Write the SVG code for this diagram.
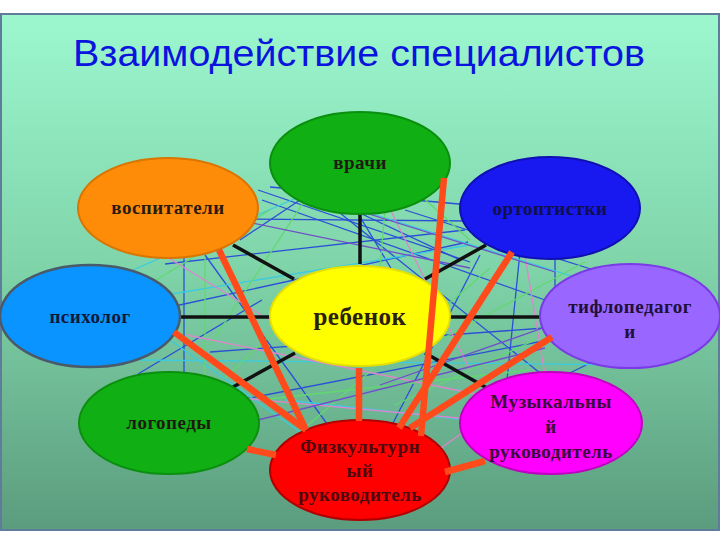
<svg xmlns="http://www.w3.org/2000/svg" width="720" height="540" viewBox="0 0 720 540">
<defs>
<linearGradient id="bg" x1="0" y1="0" x2="0" y2="1">
<stop offset="0" stop-color="#9cf7cf"/>
<stop offset="0.5" stop-color="#7fd3a8"/>
<stop offset="1" stop-color="#5b9c7e"/>
</linearGradient>
<style>
.lbl{font-family:"Liberation Serif","DejaVu Serif",serif;font-weight:bold;font-size:19px;text-anchor:middle;letter-spacing:0.5px}
.b{stroke:#2b4fd6;stroke-width:1.3;fill:none}
.c{stroke:#3ccbe0;stroke-width:1.3;fill:none}
.g{stroke:#62d870;stroke-width:1.3;fill:none}
.p{stroke:#dc86cc;stroke-width:1.3;fill:none}
.v{stroke:#7050c8;stroke-width:1.3;fill:none}
.k{stroke:#111;stroke-width:3.5;fill:none}
.r{stroke:#ff4a1c;stroke-width:6.5;fill:none}
</style>
</defs>
<rect x="0" y="0" width="720" height="540" fill="#ffffff"/>
<rect x="1" y="14" width="718" height="516" fill="url(#bg)" stroke="#5f7d9a" stroke-width="2"/>
<text x="359" y="66" font-family="Liberation Sans, Arial, sans-serif" font-size="36" fill="#0a14dc" text-anchor="middle" textLength="572" lengthAdjust="spacingAndGlyphs">Взаимодействие специалистов</text>

<g id="web">
<line class="b" x1="258" y1="190" x2="470" y2="262"/>
<line class="b" x1="250" y1="219" x2="470" y2="221"/>
<line class="b" x1="262" y1="200" x2="545" y2="300"/>
<line class="b" x1="165" y1="264" x2="465" y2="230"/>
<line class="b" x1="175" y1="306" x2="468" y2="242"/>
<line class="b" x1="184" y1="257" x2="184" y2="374"/>
<line class="b" x1="205" y1="255" x2="330" y2="428"/>
<line class="b" x1="138" y1="374" x2="262" y2="300"/>
<line class="b" x1="300" y1="185" x2="460" y2="260"/>
<line class="b" x1="270" y1="187" x2="470" y2="205"/>
<line class="b" x1="405" y1="210" x2="600" y2="272"/>
<line class="b" x1="555" y1="256" x2="555" y2="300"/>
<line class="b" x1="330" y1="205" x2="555" y2="385"/>
<line class="b" x1="480" y1="255" x2="392" y2="425"/>
<line class="b" x1="520" y1="252" x2="505" y2="400"/>
<line class="b" x1="210" y1="352" x2="545" y2="328"/>
<line class="b" x1="240" y1="400" x2="548" y2="340"/>
<line class="b" x1="600" y1="358" x2="560" y2="378"/>
<line class="b" x1="350" y1="200" x2="410" y2="300"/>
<line class="b" x1="240" y1="240" x2="300" y2="200"/>
<line class="c" x1="133" y1="270" x2="303" y2="195"/>
<line class="c" x1="172" y1="294" x2="470" y2="245"/>
<line class="c" x1="140" y1="360" x2="640" y2="365"/>
<line class="c" x1="170" y1="340" x2="300" y2="432"/>
<line class="c" x1="285" y1="400" x2="468" y2="420"/>
<line class="c" x1="360" y1="210" x2="600" y2="285"/>
<line class="g" x1="270" y1="210" x2="140" y2="290"/>
<line class="g" x1="305" y1="200" x2="210" y2="345"/>
<line class="g" x1="205" y1="257" x2="205" y2="375"/>
<line class="g" x1="420" y1="195" x2="470" y2="240"/>
<line class="g" x1="490" y1="268" x2="300" y2="432"/>
<line class="g" x1="585" y1="262" x2="440" y2="340"/>
<line class="g" x1="225" y1="378" x2="310" y2="298"/>
<line class="g" x1="535" y1="340" x2="395" y2="405"/>
<line class="g" x1="385" y1="210" x2="380" y2="268"/>
<line class="g" x1="260" y1="400" x2="530" y2="370"/>
<line class="p" x1="167" y1="257" x2="310" y2="345"/>
<line class="p" x1="187" y1="335" x2="480" y2="395"/>
<line class="p" x1="240" y1="398" x2="480" y2="420"/>
<line class="p" x1="388" y1="205" x2="470" y2="370"/>
<line class="p" x1="524" y1="250" x2="545" y2="375"/>
<line class="p" x1="548" y1="372" x2="410" y2="470"/>
<line class="v" x1="247" y1="222" x2="470" y2="268"/>
<line class="v" x1="292" y1="190" x2="555" y2="272"/>
<line class="v" x1="560" y1="322" x2="380" y2="385"/>
<line class="v" x1="238" y1="425" x2="545" y2="348"/>
</g>

<g id="spokes">
<line class="k" x1="360" y1="215" x2="360" y2="264"/>
<line class="k" x1="233" y1="245" x2="294" y2="279"/>
<line class="k" x1="486" y1="245" x2="425" y2="279"/>
<line class="k" x1="180" y1="317" x2="270" y2="317"/>
<line class="k" x1="450" y1="317" x2="540" y2="317"/>
<line class="k" x1="233" y1="387" x2="295" y2="353"/>
<line class="k" x1="425" y1="353" x2="487" y2="388"/>
</g>

<g id="n-vrachi"><ellipse cx="360" cy="163" rx="90" ry="51" fill="#10b014" stroke="#0a8f0e" stroke-width="2"/><text class="lbl" x="360" y="169" fill="#1e1a10">врачи</text></g>
<g id="n-vospitateli"><ellipse cx="168" cy="208" rx="90" ry="50" fill="#ff8c08" stroke="#d97500" stroke-width="2"/><text class="lbl" x="168" y="214" fill="#2a1a10">воспитатели</text></g>
<g id="n-ortoptistki"><ellipse cx="550" cy="208" rx="90" ry="51" fill="#1818f0" stroke="#1010b0" stroke-width="2"/><text class="lbl" x="550" y="215" fill="#10104a">ортоптистки</text></g>
<g id="n-psiholog"><ellipse cx="90" cy="316" rx="90" ry="51" fill="#0a94ff" stroke="#4a5a6a" stroke-width="2.5"/><text class="lbl" x="90" y="323" fill="#101838">психолог</text></g>
<g id="n-rebenok"><ellipse cx="360" cy="316" rx="90" ry="50" fill="#ffff00" stroke="#e6e000" stroke-width="2"/><text class="lbl" x="360" y="325" fill="#2a2010" style="font-size:25px">ребенок</text></g>
<g id="n-tiflo"><ellipse cx="630" cy="316" rx="90" ry="52" fill="#9966ff" stroke="#7a3ae6" stroke-width="2"/><text class="lbl" x="630" y="313" fill="#20103a">тифлопедагог</text><text class="lbl" x="630" y="338" fill="#20103a">и</text></g>
<g id="n-logopedy"><ellipse cx="169" cy="423" rx="90" ry="51" fill="#10b014" stroke="#0a8f0e" stroke-width="2"/><text class="lbl" x="169" y="429" fill="#1e1a10">логопеды</text></g>
<g id="n-muz"><ellipse cx="551" cy="423" rx="91" ry="51" fill="#ff00ff" stroke="#c000c0" stroke-width="2"/><text class="lbl" x="551" y="408" fill="#3a0a3a">Музыкальны</text><text class="lbl" x="551" y="433" fill="#3a0a3a">й</text><text class="lbl" x="551" y="458" fill="#3a0a3a">руководитель</text></g>
<g id="n-fizk"><ellipse cx="360" cy="470" rx="90" ry="50" fill="#ff0000" stroke="#b00000" stroke-width="2"/><text class="lbl" x="360" y="453" fill="#4a0a10">Физкультурн</text><text class="lbl" x="360" y="477" fill="#4a0a10">ый</text><text class="lbl" x="360" y="501" fill="#4a0a10">руководитель</text></g>

<g id="red-links">
<line class="r" x1="219" y1="250" x2="306" y2="430"/>
<line class="r" x1="174" y1="332" x2="306" y2="430"/>
<line class="r" x1="247" y1="449" x2="276" y2="455"/>
<line class="r" x1="359" y1="368" x2="359" y2="421"/>
<line class="r" x1="444" y1="178" x2="421" y2="436"/>
<line class="r" x1="512" y1="252" x2="399" y2="428"/>
<line class="r" x1="552" y1="337" x2="410" y2="428"/>
<line class="r" x1="485" y1="461" x2="445" y2="472"/>
</g>
</svg>
